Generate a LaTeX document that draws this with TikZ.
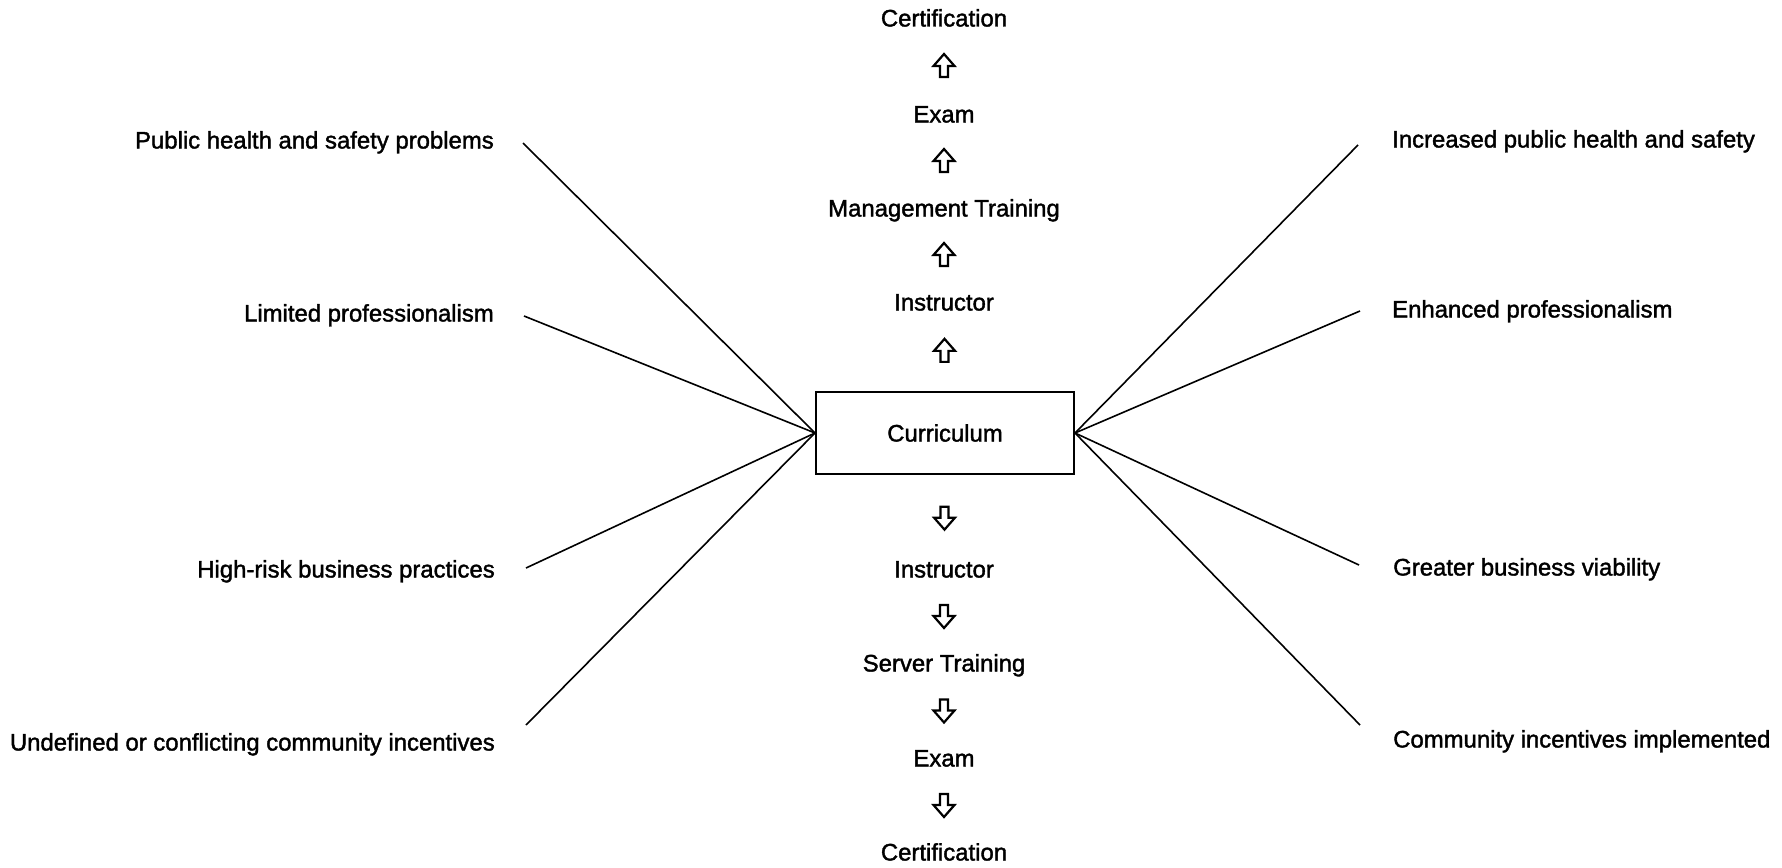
\documentclass[tikz,border=0pt]{standalone}
\usepackage{fontspec}
\setmainfont{Liberation Sans}
\newfontfamily\labfont{Liberation Sans}[FakeBold=1.6]
\usetikzlibrary{calc}
\begin{document}
\begin{tikzpicture}[x=1pt,y=-1pt,
  lab/.style={inner sep=0pt, text height=17pt, text depth=0pt,
    font=\fontsize{23.9}{26}\labfont},
  link/.style={line width=1.6pt},
  blockarr/.style={line width=2.2pt, line join=miter},
  uparr/.pic={\draw[blockarr] (0,-12) -- (10.5,0) -- (4,0) -- (4,11) -- (-4,11) -- (-4,0) -- (-10.5,0) -- cycle;},
  downarr/.pic={\draw[blockarr] (0,12) -- (10.5,0) -- (4,0) -- (4,-11) -- (-4,-11) -- (-4,0) -- (-10.5,0) -- cycle;}
]
\useasboundingbox (0,0) rectangle (1782,867);

% central box
\node[draw, line width=2pt, minimum width=258pt, minimum height=82pt, inner sep=0pt,
  font=\fontsize{23.9}{26}\labfont] (cur) at (945,433) {Curriculum};

% upper column
\node[lab] (ucert) at (944,18) {Certification};
\node[lab] (uexam) at (944,114) {Exam};
\node[lab] (umgt) at (944,208) {Management Training};
\node[lab] (uins) at (944,302) {Instructor};
% lower column
\node[lab] (lins) at (944,569) {Instructor};
\node[lab] (lsrv) at (944,663) {Server Training};
\node[lab] (lexam) at (944,758) {Exam};
\node[lab] (lcert) at (944,852) {Certification};

\pic at ($(uexam.north)!0.5!(ucert.south)$) {uparr};
\pic at ($(umgt.north)!0.5!(uexam.south)$) {uparr};
\pic at ($(uins.north)!0.5!(umgt.south)$) {uparr};
\pic at ($(cur.north)!0.5!(uins.south)$) {uparr};
\pic at ($(cur.south)!0.5!(lins.north)$) {downarr};
\pic at ($(lins.south)!0.5!(lsrv.north)$) {downarr};
\pic at ($(lsrv.south)!0.5!(lexam.north)$) {downarr};
\pic at ($(lexam.south)!0.5!(lcert.north)$) {downarr};

% left labels
\node[lab, anchor=east] (pl1) at (494,140) {Public health and safety problems};
\node[lab, anchor=east] (pl2) at (494,313) {Limited professionalism};
\node[lab, anchor=east] (pl3) at (495,569) {High-risk business practices};
\node[lab, anchor=east] (pl4) at (495,742) {Undefined or conflicting community incentives};
% right labels
\node[lab, anchor=west] (pr1) at (1392,139) {Increased public health and safety};
\node[lab, anchor=west] (pr2) at (1392,309) {Enhanced professionalism};
\node[lab, anchor=west] (pr3) at (1393,567) {Greater business viability};
\node[lab, anchor=west] (pr4) at (1393,739) {Community incentives implemented};

% line ends
\coordinate (el1) at (523,143);
\coordinate (el2) at (524,316);
\coordinate (el3) at (526,568);
\coordinate (el4) at (526,725);
\coordinate (er1) at (1358,145);
\coordinate (er2) at (1360,311);
\coordinate (er3) at (1359,565);
\coordinate (er4) at (1360,725);

\foreach \e in {el1,el2,el3,el4} \draw[link] (\e) -- (cur.west);
\foreach \e in {er1,er2,er3,er4} \draw[link] (\e) -- (cur.east);
\end{tikzpicture}
\end{document}
